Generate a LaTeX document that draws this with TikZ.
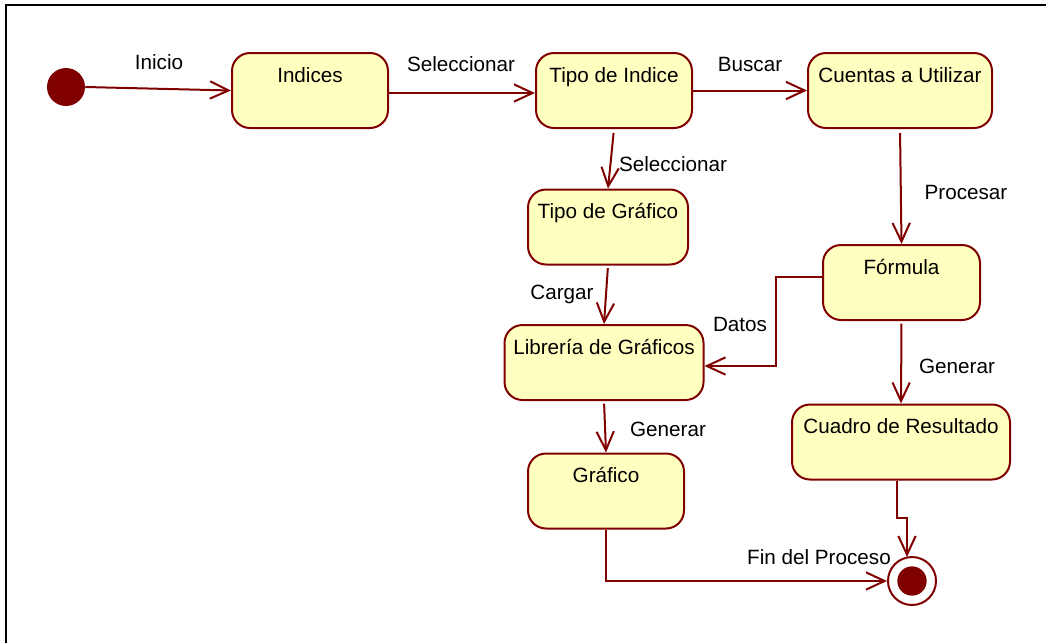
\documentclass[tikz,border=0pt]{standalone}
\usepackage{fontspec}
\setmainfont{Liberation Sans}
\usetikzlibrary{arrows.meta,calc}
\definecolor{umlred}{RGB}{128,0,0}
\definecolor{umlfill}{RGB}{255,255,192}

\begin{document}
\begin{tikzpicture}[x=0.75pt,y=-0.75pt,
    font=\fontsize{15.5}{18}\selectfont,
    state/.style={draw=umlred,fill=umlfill,line width=1.5pt,rounded corners=13.5pt,
      inner sep=0pt,text height=22.1pt,text depth=34.15pt,minimum height=56.25pt},
    flow/.style={draw=umlred,line width=1.5pt,-{Straight Barb[length=14pt,width=13pt]}},
    lbl/.style={anchor=base,inner sep=0pt},
  ]
  % Frame
  \useasboundingbox (0,0) rectangle (1046,643);
  \draw[line width=2.2pt] (6,643) -- (6,5) -- (1046,5);

  % Initial and final states
  \node[circle,fill=umlred,minimum size=28.5pt,inner sep=0pt] (ini) at (66,87) {};
  \node[circle,draw=umlred,line width=1.5pt,fill=white,minimum size=36pt,inner sep=0pt,
    path picture={\fill[umlred] (path picture bounding box.center) circle (11pt);}] (fin) at (912,581) {};

  % States
  \node[state,minimum width=117pt] (ind) at (310,90.5) {Indices};
  \node[state,minimum width=117pt] (tind) at (614,90.5) {Tipo de Indice};
  \node[state,minimum width=138pt] (cta) at (900,90.5) {Cuentas a Utilizar};
  \node[state,minimum width=120pt] (tgraf) at (608,227) {Tipo de Gráfico};
  \node[state,minimum width=117.75pt] (form) at (901.5,282.5) {Fórmula};
  \node[state,minimum width=149.25pt] (lib) at (604,362.5) {Librería de Gráficos};
  \node[state,minimum width=117pt] (graf) at (606,491) {Gráfico};
  \node[state,minimum width=163.5pt] (cuad) at (901,442) {Cuadro de Resultado};

  % Transitions
  \draw[flow] (ini.east) -- (ind.west);
  \draw[flow] ($(ind.east)+(0,2.5)$) -- ($(tind.west)+(0,2.5)$);
  \draw[flow] (tind.east) -- (cta.west);
  \draw[flow,shorten <=3pt] (tind.south) -- (tgraf.north);
  \draw[flow,shorten <=3pt] (cta.south) -- (form.north);
  \draw[flow,shorten <=2pt] (tgraf.south) -- (lib.north);
  \draw[flow,shorten <=2pt] (lib.south) -- (graf.north);
  \draw[flow,shorten <=2pt] (form.south) -- (cuad.north);
  \draw[flow] ($(form.west)+(0,-5.5)$) -- ++(-46,0) |- ($(lib.east)+(0,3.5)$);
  \draw[flow] (graf.south) |- (fin.west);
  \draw[flow] ($(cuad.south)+(-4,0)$) -- ++(0,37) -| ($(fin.north)+(-5,1)$);

  % Labels
  \node[lbl] (linicio) at (159,69) {Inicio};
  \node[lbl] (lsel) at (461,71) {Seleccionar};
  \node[lbl] (lbus) at (750,71) {Buscar};
  \node[lbl] (lselb) at (673,171) {Seleccionar};
  \node[lbl] (lproc) at (966,199) {Procesar};
  \node[lbl] (lcarg) at (562,299) {Cargar};
  \node[lbl] (ldat) at (740,331) {Datos};
  \node[lbl] (lgen) at (668,436) {Generar};
  \node[lbl] (lgenb) at (957,373) {Generar};
  \node[lbl] (lfin) at (819,564) {Fin del Proceso};
\end{tikzpicture}
\end{document}
